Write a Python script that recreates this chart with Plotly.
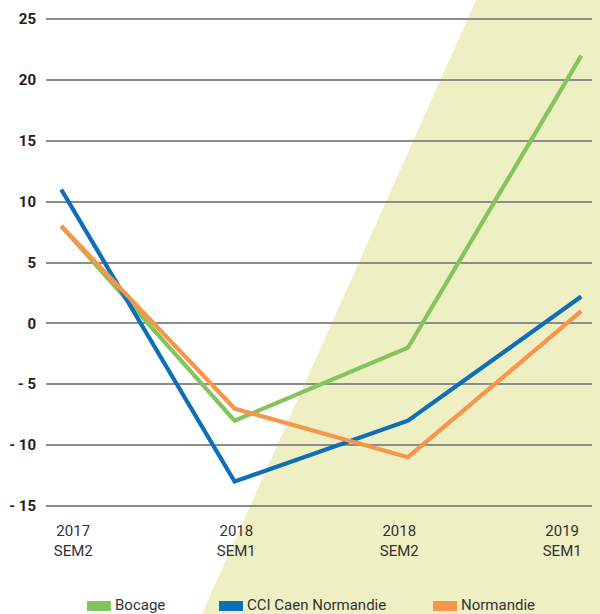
import plotly.graph_objects as go

# ---- data ----
periods = ["2017<br>SEM2", "2018<br>SEM1", "2018<br>SEM2", "2019<br>SEM1"]
bocage = [8, -8, -2, 22]
cci_caen = [11, -13, -8, 2.2]
normandie = [8, -7, -11, 1]
y_ticks = [25, 20, 15, 10, 5, 0, -5, -10, -15]
y_tick_text = ["25", "20", "15", "10", "5", "0", "- 5", "- 10", "- 15"]
series_names = ["Bocage", "CCI Caen Normandie", "Normandie"]
colors = ["#84C45C", "#0E6EB8", "#F7964B"]

W, H = 600, 614
ML, MR, MT, MB = 46, 8, 13, 102
PW, PH = W - ML - MR, H - MT - MB


def px2x(px):
    return (px - ML) / PW


def py2y(py):
    return (H - MB - py) / PH


xs = list(range(len(periods)))
label_offsets = [0.069, 0.01, -0.05, -0.11]

fig = go.Figure()
for name, vals, col in zip(series_names, [bocage, cci_caen, normandie], colors):
    fig.add_trace(go.Scatter(x=xs, y=vals, mode="lines", name=name,
                             line=dict(color=col, width=4.2),
                             showlegend=False, hoverinfo="skip"))

# background diagonal band
fig.add_shape(type="path", xref="paper", yref="paper", layer="below",
              path=(f"M {px2x(477)} {py2y(-2)} L {px2x(602)} {py2y(-2)} "
                    f"L {px2x(602)} {py2y(616)} L {px2x(201)} {py2y(616)} Z"),
              fillcolor="#EEEFC2", line=dict(width=0))

# manual legend
legend_pos = [87, 219, 433]
for name, col, lx in zip(series_names, colors, legend_pos):
    fig.add_shape(type="rect", xref="paper", yref="paper",
                  x0=px2x(lx), x1=px2x(lx + 24), y0=py2y(611), y1=py2y(601),
                  fillcolor=col, line=dict(width=0))
    fig.add_annotation(xref="paper", yref="paper", x=px2x(lx + 26), y=py2y(605),
                       xanchor="left", yanchor="middle", showarrow=False,
                       text=name, font=dict(size=15, color="#333333", family="Roboto"))

fig.update_layout(
    width=W, height=H,
    margin=dict(l=ML, r=MR, t=MT, b=MB),
    paper_bgcolor="rgba(0,0,0,0)", plot_bgcolor="rgba(0,0,0,0)",
    font=dict(family="Roboto", color="#333333"),
    showlegend=False,
)
fig.update_xaxes(range=[-0.088, 3.062], showgrid=False, zeroline=False, showline=False,
                 tickmode="array", tickvals=[x + o for x, o in zip(xs, label_offsets)],
                 ticktext=periods, ticks="", ticklabelstandoff=8,
                 tickfont=dict(size=15, color="#333333", family="Roboto"))
fig.update_yaxes(range=[-15.5, 25.5], showgrid=True, gridcolor="#8C8C8C", gridwidth=2,
                 zeroline=False, showline=False, tickmode="array", tickvals=y_ticks,
                 ticktext=y_tick_text, ticks="", ticklabelstandoff=9,
                 tickfont=dict(size=15, color="#222222", family="Roboto", weight="bold"))

fig.write_html("out.html", config={"displayModeBar": False},
               post_script="document.body.style.margin='0';document.body.style.overflow='hidden';")
